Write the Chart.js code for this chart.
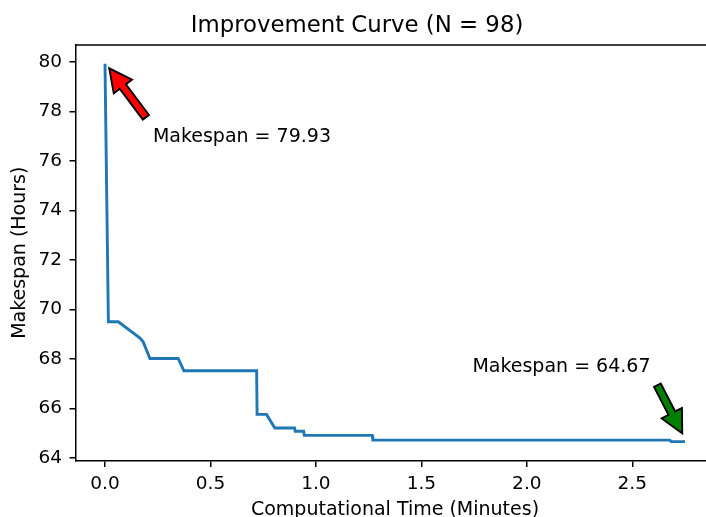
<!DOCTYPE html>
<html>
<head>
<meta charset="utf-8">
<title>Improvement Curve</title>
<script src="https://cdn.jsdelivr.net/npm/chart.js@4"></script>
<style>
  html, body { margin: 0; padding: 0; overflow: hidden; background: #fff; }
  #wrap { width: 706px; height: 517px; overflow: hidden; }
</style>
</head>
<body>
<div id="wrap"><canvas id="curveChart" width="720" height="530"></canvas></div>
<script>
// improvement curve
const timeMinutes = [0, 0.016, 0.063, 0.166, 0.181, 0.213, 0.347, 0.374, 0.719, 0.721, 0.766, 0.805, 0.899, 0.902, 0.942, 0.945, 1.267, 1.270, 2.677, 2.685, 2.75];
const makespanHours = [79.93, 69.51, 69.51, 68.85, 68.70, 68.03, 68.03, 67.53, 67.53, 65.77, 65.77, 65.22, 65.22, 65.09, 65.09, 64.92, 64.92, 64.73, 64.73, 64.67, 64.67];
const xTicks = [0, 0.5, 1.0, 1.5, 2.0, 2.5];
const yTicks = [64, 66, 68, 70, 72, 74, 76, 78, 80];

// annotations: arrow tip, arrow tail, text anchor (data coords)
const notes = [
    { label: "Makespan = 79.93", tip: [0.02, 79.75], tail: [0.194, 77.77], at: [0.227, 76.77], color: "red" },
    { label: "Makespan = 64.67", tip: [2.737, 65.0], tail: [2.619, 66.95], at: [1.742, 67.47], color: "green" },
];

const FONT = "DejaVu Sans";

// matplotlib style 5% margins
function padRange(vals) {
    let lo = Math.min(...vals), hi = Math.max(...vals);
    let m = (hi - lo) * 0.05;
    return [lo - m, hi + m];
}
const [xMin, xMax] = padRange(timeMinutes);
const [yMin, yMax] = padRange(makespanHours);

// top spine (the right one falls outside the window)
const framePlugin = {
    id: "frame",
    afterDraw(chart) {
        const { ctx, chartArea: a } = chart;
        ctx.save();
        ctx.strokeStyle = "#000";
        ctx.lineWidth = 1.5;
        ctx.beginPath();
        ctx.moveTo(a.left, a.top);
        ctx.lineTo(a.right, a.top);
        ctx.stroke();
        ctx.restore();
    },
};

function drawArrow(ctx, x0, y0, x1, y1, color) {
    const w = 7.6, hw = 22.8, hl = 22.8;
    let dx = x1 - x0, dy = y1 - y0;
    let len = Math.hypot(dx, dy);
    let ux = dx / len, uy = dy / len;
    let nx = -uy, ny = ux;
    let bx = x1 - ux * hl, by = y1 - uy * hl;
    ctx.beginPath();
    ctx.moveTo(x0 + nx * w / 2, y0 + ny * w / 2);
    ctx.lineTo(bx + nx * w / 2, by + ny * w / 2);
    ctx.lineTo(bx + nx * hw / 2, by + ny * hw / 2);
    ctx.lineTo(x1, y1);
    ctx.lineTo(bx - nx * hw / 2, by - ny * hw / 2);
    ctx.lineTo(bx - nx * w / 2, by - ny * w / 2);
    ctx.lineTo(x0 - nx * w / 2, y0 - ny * w / 2);
    ctx.closePath();
    ctx.fillStyle = color;
    ctx.fill();
    ctx.lineWidth = 1.9;
    ctx.lineJoin = "miter";
    ctx.strokeStyle = "#000";
    ctx.stroke();
}

const notesPlugin = {
    id: "notes",
    afterDraw(chart) {
        const { ctx } = chart;
        const xs = chart.scales.x, ys = chart.scales.y;
        ctx.save();
        notes.forEach(n => {
            drawArrow(ctx,
                xs.getPixelForValue(n.tail[0]), ys.getPixelForValue(n.tail[1]),
                xs.getPixelForValue(n.tip[0]), ys.getPixelForValue(n.tip[1]),
                n.color);
            ctx.fillStyle = "#000";
            ctx.font = "19px '" + FONT + "'";
            ctx.textAlign = "left";
            ctx.textBaseline = "alphabetic";
            ctx.fillText(n.label, xs.getPixelForValue(n.at[0]), ys.getPixelForValue(n.at[1]));
        });
        ctx.restore();
    },
};

const ctx = document.getElementById("curveChart").getContext("2d");
const curveChart = new Chart(ctx, {
    type: "line",
    data: {
        datasets: [{
            label: "Makespan",
            data: timeMinutes.map((t, i) => ({ x: t, y: makespanHours[i] })),
            borderColor: "#1f77b4",
            borderWidth: 2.9,
            pointRadius: 0,
            fill: false,
            tension: 0,
        }],
    },
    options: {
        responsive: false,
        animation: false,
        devicePixelRatio: 1,
        layout: { padding: { left: 0, right: 6, top: 0, bottom: 0 } },
        plugins: {
            legend: { display: false },
            tooltip: { enabled: false },
            title: {
                display: true,
                text: "Improvement Curve (N = 98)",
                color: "#000",
                font: { family: FONT, size: 22.8, weight: "normal", lineHeight: 1.2 },
                padding: { top: 12.5, bottom: 5.1 },
            },
        },
        scales: {
            x: {
                type: "linear",
                min: xMin,
                max: xMax,
                grid: { display: true, drawOnChartArea: false, drawTicks: true, tickLength: 6.5, color: "#000", lineWidth: 1.5 },
                border: { display: true, color: "#000", width: 1.5 },
                afterBuildTicks: s => { s.ticks = xTicks.map(v => ({ value: v })); },
                afterFit: s => { s.height = 69.5; },
                ticks: { color: "#000", padding: 6.5, maxRotation: 0, font: { family: FONT, size: 18.5 }, callback: v => v.toFixed(1) },
                title: { display: true, text: "Computational Time (Minutes)", color: "#000", font: { family: FONT, size: 19 }, padding: { top: 0, bottom: 9 } },
            },
            y: {
                type: "linear",
                min: yMin,
                max: yMax,
                grid: { display: true, drawOnChartArea: false, drawTicks: true, tickLength: 6.5, color: "#000", lineWidth: 1.5 },
                border: { display: true, color: "#000", width: 1.5 },
                afterBuildTicks: s => { s.ticks = yTicks.map(v => ({ value: v })); },
                afterFit: s => { s.width = 76; },
                ticks: { color: "#000", padding: 7.5, font: { family: FONT, size: 18.5 }, callback: v => String(v) },
                title: { display: true, text: "Makespan (Hours)", color: "#000", font: { family: FONT, size: 19 }, padding: { top: 8.6, bottom: 0 } },
            },
        },
    },
    plugins: [framePlugin, notesPlugin],
});
</script>
</body>
</html>
